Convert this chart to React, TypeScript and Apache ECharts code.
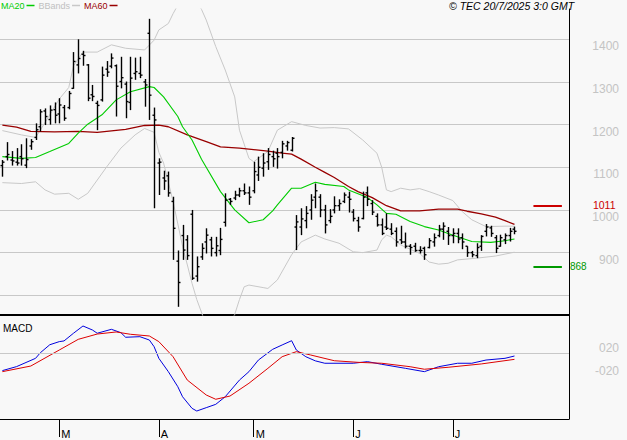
import React, { useEffect, useRef } from "react";
import * as echarts from "echarts";

// ---- trading days (categories) ----
const febDays = [13, 14, 17, 18, 19, 20, 21, 24, 25, 26, 27, 28];
const marDays = [3, 4, 5, 6, 7, 10, 11, 12, 13, 14, 17, 18, 19, 20, 21, 24, 25, 26, 27, 28, 31];
const aprDays = [1, 2, 3, 4, 7, 8, 9, 10, 11, 14, 15, 16, 17, 22, 23, 24, 25, 28, 29, 30];
const mayDays = [2, 5, 6, 7, 8, 9, 12, 13, 14, 15, 16, 19, 20, 21, 22, 23, 26, 27, 28, 29, 30];
const junDays = [2, 3, 4, 5, 6, 9, 10, 11, 12, 13, 16, 17, 18, 19, 20, 23, 24, 25, 26, 27, 30];
const julDays = [1, 2, 3, 4, 7, 8, 9, 10, 11, 14, 15, 16, 17, 18];
const monthDays: [string, number[]][] = [
  ["02", febDays], ["03", marDays], ["04", aprDays], ["05", mayDays], ["06", junDays], ["07", julDays],
];
const monthLetter: Record<string, string> = { "03": "M", "04": "A", "05": "M", "06": "J", "07": "J" };

const dates: string[] = [];
monthDays.forEach(([m, days]) => days.forEach((d) => dates.push(`2025-${m}-${String(d).padStart(2, "0")}`)));
const emptySlots = 11;
const categories = [...dates, ...Array.from({ length: emptySlots }, (_, k) => `+${k + 1}`)];

// ---- OHLC ----
const opens = [1104,1125,1117,1112,1125,1105,1150,1170,1195,1232,1212,1235,1225,1240,1240,1285,1340,1365,1340,1270,1250,1258,1330,1337,1338,1301,1295,1252,1320,1320,1300,1414,1222,1110,1075,1080,1020,880,940,930,990,845,890,925,930,900,905,971,1025,1028,1035,1045,1040,1045,1082,1098,1113,1125,1133,1135,1150,1140,960,960,975,1000,1030,1030,1000,975,1000,1010,1020,1030,995,975,980,1040,1015,985,965,960,955,950,930,925,915,915,905,910,912,925,940,955,950,940,945,935,915,900,893,915,950,958,935,915,930,940,955];
const highs = [1117,1159,1138,1145,1154,1168,1166,1203,1236,1238,1245,1252,1262,1246,1279,1370,1400,1373,1342,1293,1256,1336,1349,1367,1341,1359,1301,1359,1357,1359,1307,1448,1240,1121,1092,1090,1031,905,965,941,1000,891,922,957,937,937,958,1039,1028,1045,1052,1062,1055,1113,1125,1133,1145,1139,1145,1162,1162,1171,988,1004,1009,1037,1062,1037,1012,1002,1032,1025,1041,1043,1002,984,1043,1055,1023,992,980,992,969,959,963,947,920,923,915,914,934,945,965,971,960,957,957,945,915,904,922,941,967,963,941,942,945,958,961];
const lows = [1078,1116,1104,1104,1104,1098,1141,1164,1184,1199,1200,1203,1203,1209,1236,1284,1320,1338,1255,1255,1187,1254,1312,1332,1219,1285,1215,1234,1305,1309,1242,1211,1004,1035,1047,1031,883,773,883,883,836,832,883,898,891,891,894,961,1012,1023,1030,1035,1012,1039,1068,1078,1094,1101,1097,1121,1139,1137,906,941,957,977,1004,983,945,969,992,998,1016,994,973,949,978,1009,988,961,941,953,941,914,920,910,895,902,898,883,910,914,936,930,918,922,922,908,890,889,887,904,938,937,899,914,920,926,943];
const closes = [1112,1130,1115,1110,1120,1118,1160,1188,1230,1219,1234,1222,1246,1215,1273,1348,1355,1362,1262,1266,1245,1316,1323,1356,1290,1310,1254,1309,1324,1316,1293,1269,1211,1112,1068,1040,957,830,906,893,840,867,910,941,910,916,931,1023,1020,1035,1045,1040,1030,1090,1100,1110,1130,1120,1125,1155,1158,1168,972,979,992,1023,1045,1000,965,985,1010,1015,1035,1025,980,960,1030,1025,995,965,945,957,945,925,925,915,912,905,905,895,928,935,955,962,940,945,932,925,900,895,912,938,960,945,910,935,940,950,950];

// ---- indicator lines, [day index, value] ----
const ma20 = [[0,1125],[4,1121],[7,1123],[10,1137],[14,1156],[16,1180],[18,1201],[21,1223],[24,1258],[27,1277],[31,1289],[32,1287],[34,1265],[37,1219],[38,1195],[40,1164],[42,1119],[46,1043],[49,1000],[52,970],[55,977],[57,998],[58,1012],[61,1051],[63,1051],[66,1065],[68,1060],[72,1055],[73,1047],[77,1029],[79,1012],[81,992],[83,990],[86,973],[89,961],[92,953],[94,945],[96,937],[99,926],[103,924],[106,928],[108,932]];
const ma60 = [[0,1199],[3,1194],[6,1184],[11,1183],[16,1184],[20,1182],[26,1189],[30,1198],[33,1199],[35,1195],[39,1176],[43,1160],[46,1148],[50,1145],[56,1138],[59,1133],[61,1131],[63,1119],[66,1100],[68,1088],[70,1076],[73,1055],[75,1043],[78,1029],[81,1010],[84,998],[88,998],[92,1002],[96,1002],[98,997],[101,991],[104,983],[106,975],[108,966]];
const bbUpper = [[0,1186],[4,1176],[7,1170],[8,1187],[10,1223],[12,1260],[14,1287],[15,1338],[17,1370],[20,1370],[23,1387],[26,1379],[30,1375],[32,1398],[33,1422],[35,1437],[36,1460],[38,1500],[40,1505],[42,1470],[43,1445],[45,1383],[47,1328],[49,1265],[50,1187],[52,1121],[53,1113],[56,1137],[58,1187],[61,1207],[64,1198],[67,1192],[70,1193],[73,1190],[76,1164],[79,1133],[80,1100],[81,1047],[82,1043],[84,1051],[86,1047],[88,1050],[90,1043],[92,1035],[95,1022],[97,996],[99,977],[102,961],[106,962],[108,962]];
const bbLower = [[0,1064],[4,1062],[7,1066],[9,1047],[11,1037],[14,1039],[16,1025],[18,1039],[20,1070],[22,1101],[25,1145],[28,1176],[30,1191],[32,1182],[33,1135],[34,1110],[36,1020],[38,915],[40,828],[41,790],[43,730],[46,700],[49,755],[50,790],[51,820],[52,824],[55,818],[56,816],[58,836],[61,895],[63,925],[66,941],[68,932],[71,922],[74,902],[76,900],[79,906],[80,930],[81,941],[82,937],[84,918],[88,898],[90,878],[92,873],[94,875],[96,883],[100,887],[104,892],[108,901]];
const macd = [[0,-31],[3,-24],[7,-9.6],[8,0],[10,14],[12,19.4],[13,20.6],[15,34],[17,46.6],[19,39.6],[20,34],[23,40.8],[25,35],[26,27],[29,28],[31,22.2],[32,10.6],[33,-9.6],[35,-32.8],[37,-59],[38,-76.4],[40,-96.6],[41,-101.2],[43,-95.4],[45,-89.6],[47,-76.4],[50,-47.4],[52,-32.8],[54,-12.6],[57,6],[59,13.6],[61,21],[62,4.8],[64,-6.8],[66,-14],[68,-18.2],[74,-18.2],[77,-15.4],[80,-20],[85,-27],[89,-32.8],[92,-24.2],[96,-18.2],[99,-18.2],[102,-12.6],[106,-9.6],[108,-5.6]];
const signal = [[0,-32.8],[6,-23],[12,4.8],[16,23.4],[20,32.6],[24,36.2],[27,32.2],[31,29.2],[33,19.4],[36,-6.8],[39,-47.4],[43,-73.4],[45,-80.8],[48,-75.2],[52,-53],[56,-27],[59,-6.8],[62,2],[65,-3.8],[70,-13.8],[75,-16.6],[80,-18.2],[86,-24.2],[89,-28.6],[94,-25.2],[101,-19.4],[108,-11.4]];

// ---- levels / tick labels ----
const resistance = 1011;
const support = 868;
const macdTickLabels: Record<string, string> = { "20": "020", "-20": "-020" };

const FONT = "Liberation Sans, Arial, sans-serif";
const GRID_LINE = "#c8c8c8";
const AXIS_TEXT = "#c4c4c4";

export default function App() {
  const ref = useRef<HTMLDivElement>(null);

  useEffect(() => {
    document.body.style.margin = "0";
    const chart = echarts.init(ref.current!, null, { renderer: "svg" });

    const monthStart = new Set<number>();
    dates.forEach((d, i) => {
      const m = d.slice(5, 7);
      if (i > 0 && dates[i - 1].slice(5, 7) !== m && monthLetter[m]) monthStart.add(i);
    });

    const ohlcData = dates.map((_, i) => [i, opens[i], highs[i], lows[i], closes[i]]);

    const lineBase = (name: string, data: number[][], color: string, width: number, axis: number) => ({
      type: "line",
      name,
      data,
      xAxisIndex: axis,
      yAxisIndex: axis,
      symbol: "none",
      showSymbol: false,
      color,
      lineStyle: { color, width },
      silent: true,
      z: 3,
    });

    const levelLine = (value: number, color: string, fontSize: number, distance: number) => [
      {
        coord: [dates.length + 3, value],
        lineStyle: { color, width: 2, type: "solid" },
        label: {
          show: true,
          position: "end",
          formatter: String(value),
          color,
          fontSize,
          lineHeight: fontSize - 1,
          fontFamily: FONT,
          distance,
        },
      },
      { coord: [dates.length + 9, value] },
    ];

    const option: any = {
      animation: false,
      backgroundColor: "#f8f8f8",
      textStyle: { fontFamily: FONT },
      title: {
        text: "© TEC 20/7/2025 3:0 GMT",
        left: 449,
        top: 0,
        padding: 0,
        textStyle: { fontSize: 10.5, fontStyle: "italic", fontWeight: "normal", color: "#000", fontFamily: FONT },
      },
      legend: {
        left: 1,
        top: 1,
        padding: 0,
        align: "right",
        icon: "rect",
        itemWidth: 8,
        itemHeight: 1.5,
        itemGap: 4,
        selectedMode: false,
        textStyle: { fontSize: 9, fontFamily: FONT, padding: [0, -3, 0, 0] },
        data: [
          { name: "MA20", textStyle: { color: "#00cc00" } },
          { name: "BBands", textStyle: { color: "#c0c0c0" } },
          { name: "MA60", textStyle: { color: "#990000" } },
        ],
      },
      graphic: [
        {
          type: "text",
          left: 3,
          top: 323,
          style: { text: "MACD", fontSize: 10, fontFamily: FONT, fill: "#000" },
          silent: true,
        },
      ],
      grid: [
        { left: 0, right: 58, top: 9, height: 306 },
        { left: 0, right: 58, top: 315, height: 104 },
      ],
      xAxis: [
        {
          gridIndex: 0,
          type: "category",
          data: categories,
          boundaryGap: true,
          axisLine: { show: true, onZero: false, lineStyle: { color: "#000", width: 2 } },
          axisTick: { show: false },
          axisLabel: { show: false },
          splitLine: { show: false },
        },
        {
          gridIndex: 1,
          type: "category",
          data: categories,
          boundaryGap: true,
          axisLine: { show: true, onZero: false, lineStyle: { color: "#000", width: 1 } },
          axisTick: {
            show: true,
            alignWithLabel: true,
            length: 18,
            interval: (i: number) => monthStart.has(i),
            lineStyle: { color: "#000", width: 1 },
          },
          axisLabel: {
            show: true,
            interval: (i: number) => monthStart.has(i),
            formatter: (v: string) => monthLetter[v.slice(5, 7)] || "",
            align: "left",
            margin: 9,
            padding: [0, 0, 0, 2],
            color: "#000",
            fontSize: 11,
            fontFamily: FONT,
          },
          splitLine: { show: false },
        },
      ],
      yAxis: [
        {
          gridIndex: 0,
          type: "value",
          position: "right",
          min: 753.8,
          max: 1471,
          splitNumber: 7,
          axisLine: { show: true, lineStyle: { color: "#000", width: 1 } },
          axisTick: { show: false },
          splitLine: { show: true, showMinLine: false, showMaxLine: false, lineStyle: { color: GRID_LINE, width: 1 } },
          axisLabel: {
            margin: 50,
            align: "right",
            verticalAlign: "top",
            padding: [1.5, 0, 0, 0],
            color: AXIS_TEXT,
            fontSize: 12,
            lineHeight: 11,
            fontFamily: FONT,
            showMinLabel: false,
            showMaxLabel: false,
            formatter: (v: number) => (Math.abs(v % 100) < 1e-6 && v >= 900 ? String(Math.round(v)) : ""),
          },
        },
        {
          gridIndex: 1,
          type: "value",
          position: "right",
          min: -115.1,
          max: 65.7,
          splitNumber: 9,
          axisLine: { show: true, lineStyle: { color: "#000", width: 1 } },
          axisTick: { show: false },
          splitLine: { show: false },
          axisLabel: {
            margin: 50,
            align: "right",
            verticalAlign: "top",
            padding: [1.5, 0, 0, 0],
            color: AXIS_TEXT,
            fontSize: 12,
            lineHeight: 11,
            fontFamily: FONT,
            showMinLabel: false,
            showMaxLabel: false,
            formatter: (v: number) => macdTickLabels[String(Math.round(v))] || "",
          },
        },
      ],
      series: [
        lineBase("BBands", bbUpper, "#c8c8c8", 1, 0),
        lineBase("BBands", bbLower, "#c8c8c8", 1, 0),
        {
          ...lineBase("MA60", ma60, "#990000", 1.3, 0),
          markLine: {
            silent: true,
            symbol: ["none", "none"],
            animation: false,
            data: [levelLine(resistance, "#cc0000", 10.5, 31), levelLine(support, "#009900", 10, 8)],
          },
        },
        lineBase("MA20", ma20, "#00cc00", 1.1, 0),
        {
          type: "custom",
          name: "Price",
          xAxisIndex: 0,
          yAxisIndex: 0,
          data: ohlcData,
          encode: { x: 0, y: [1, 2, 3, 4] },
          z: 5,
          silent: true,
          renderItem: (_p: any, api: any) => {
            const i = api.value(0);
            const o = api.coord([i, api.value(1)]);
            const h = api.coord([i, api.value(2)]);
            const l = api.coord([i, api.value(3)]);
            const c = api.coord([i, api.value(4)]);
            const x = Math.round(h[0]) + 0.5;
            const st = { stroke: "#000", lineWidth: 1.4 };
            return {
              type: "group",
              children: [
                { type: "line", shape: { x1: x, y1: h[1], x2: x, y2: l[1] }, style: st },
                { type: "line", shape: { x1: x - 2, y1: o[1], x2: x, y2: o[1] }, style: st },
                { type: "line", shape: { x1: x, y1: c[1], x2: x + 2, y2: c[1] }, style: st },
              ],
            };
          },
        },
        {
          ...lineBase("MACD", macd, "#0000dd", 1, 1),
          markLine: {
            silent: true,
            symbol: ["none", "none"],
            animation: false,
            label: { show: false },
            lineStyle: { color: GRID_LINE, width: 1, type: "solid" },
            data: [{ yAxis: 0 }],
          },
        },
        lineBase("Signal", signal, "#dd0000", 1, 1),
      ],
    };

    chart.setOption(option);
    return () => chart.dispose();
  }, []);

  return (
    <div
      ref={ref}
      style={{ position: "absolute", left: 0, top: 0, width: 627, height: 440, background: "#f8f8f8" }}
    />
  );
}
